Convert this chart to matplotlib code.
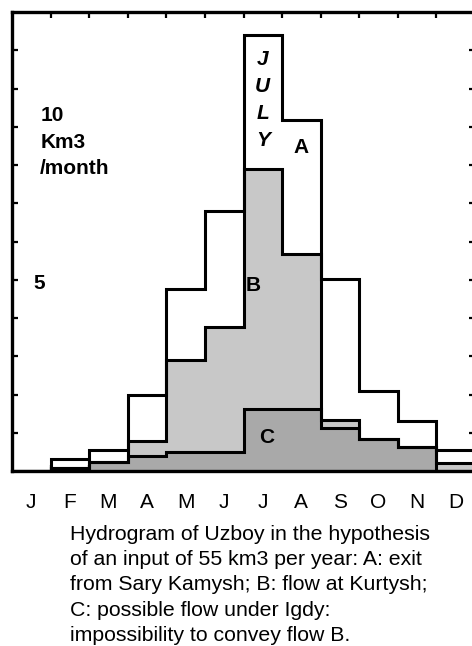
import matplotlib
matplotlib.use("Agg")
import matplotlib.pyplot as plt
import numpy as np

months = ["J", "F", "M", "A", "M", "J", "J", "A", "S", "O", "N", "D"]
flow_A = [0.0, 0.31, 0.56, 1.98, 4.76, 6.8, 11.4, 9.18, 5.01, 2.1, 1.31, 0.56]
flow_B = [0.0, 0.09, 0.23, 0.79, 2.9, 3.76, 7.9, 5.67, 1.33, 0.83, 0.64, 0.2]
flow_C = [0.0, 0.09, 0.23, 0.39, 0.49, 0.5, 1.61, 1.61, 1.12, 0.83, 0.64, 0.0]

W, H = 472, 646
fig = plt.figure(figsize=(W / 100, H / 100), dpi=100)
ax = fig.add_axes([12 / W, (H - 471) / H, 463 / W, 459 / H])

edges = np.arange(len(months) + 1)
lw = 2.2
ax.stairs(flow_B, edges, fill=True, color="#c8c8c8", zorder=1)
ax.stairs(flow_C, edges, fill=True, color="#a9a9a9", zorder=2)
ax.stairs(flow_A, edges, baseline=0, color="black", lw=lw, zorder=4)
ax.stairs(flow_B, edges, baseline=0, color="black", lw=lw, zorder=4)
ax.stairs(flow_C, edges, baseline=0, color="black", lw=lw, zorder=4)

ax.set_xlim(0, 12)
ax.set_ylim(0, 12)
for s in ax.spines.values():
    s.set_linewidth(2.4)
ax.set_xticks(np.arange(1, 12))
ax.set_xticklabels([])
ax.set_yticks(np.arange(1, 12))
ax.set_yticklabels([])
ax.tick_params(direction="in", length=4.5, width=1.6, top=True, right=True,
               bottom=True, left=True)

# month labels below the axes
centers = np.arange(len(months)) + 0.5
for c, m in zip(centers, months):
    ax.text(c, -0.82, m, ha="center", va="center", fontsize=15,
            family="Liberation Sans", clip_on=False)

bold = dict(family="Liberation Sans", fontweight="bold", fontsize=15)
ax.text(0.73, 9.3, "10", ha="left", va="center", **bold)
ax.text(0.73, 8.6, "Km3", ha="left", va="center", **bold)
ax.text(0.73, 7.9, "/month", ha="left", va="center", **bold)
ax.text(0.55, 4.9, "5", ha="left", va="center", **bold)
for i, ch in enumerate("JULY"):
    ax.text(6.5, 10.75 - i * 0.7, ch, ha="center", va="center",
            style="italic", **bold)
ax.text(7.5, 8.45, "A", ha="center", va="center", **bold)
ax.text(6.25, 4.85, "B", ha="center", va="center", **bold)
ax.text(6.6, 0.88, "C", ha="center", va="center", **bold)

caption = [
    "Hydrogram of Uzboy in the hypothesis",
    "of an input of 55 km3 per year: A: exit",
    "from Sary Kamysh; B: flow at Kurtysh;",
    "C: possible flow under Igdy:",
    "impossibility to convey flow B.",
]
for i, line in enumerate(caption):
    y = 540 + i * 25.2
    fig.text(70 / W, 1 - y / H, line, ha="left", va="baseline",
             fontsize=15.3, family="Liberation Sans")

fig.savefig("out.png", dpi=100)
